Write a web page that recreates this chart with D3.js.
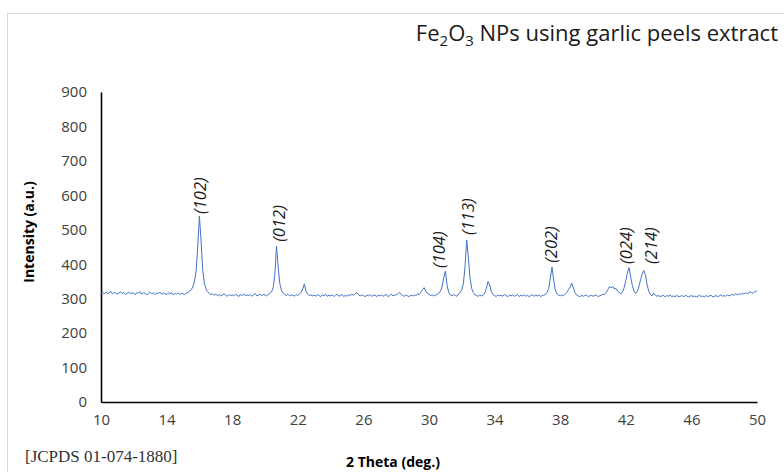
<!DOCTYPE html>
<html>
<head>
<meta charset="utf-8">
<script src="https://cdn.jsdelivr.net/npm/d3@7"></script>
<style>
  body { margin: 0; background: #fff; }
  text { font-family: "Open Sans", "Noto Sans", sans-serif; }
</style>
</head>
<body>
<script>
// XRD pattern, 2 theta from 10 to 50 in 0.1 steps
var thetaStart = 10;
var thetaStep = 0.1;
var intensity = [
  316, 318, 314, 319, 315, 317, 321, 314, 318, 316,   // 10
  313, 317, 320, 315, 318, 312, 316, 319, 314, 317,   // 11
  315, 312, 318, 316, 320, 313, 317, 315, 311, 316,   // 12
  318, 314, 316, 312, 317, 315, 319, 313, 316, 314,   // 13
  312, 316, 314, 318, 311, 315, 313, 317, 312, 315,   // 14
  314, 312, 316, 318, 321, 326, 334, 350, 380, 450,   // 15
  540, 470, 385, 345, 328, 320, 316, 312, 314, 310,   // 16
  313, 309, 312, 308, 311, 314, 310, 307, 312, 309,   // 17
  311, 308, 313, 310, 306, 312, 309, 314, 308, 311,   // 18
  309, 312, 307, 311, 315, 308, 310, 313, 309, 312,   // 19
  311, 308, 312, 315, 320, 332, 370, 452, 395, 345,   // 20
  325, 316, 312, 309, 313, 308, 311, 310, 307, 312,   // 21
  309, 313, 318, 328, 343, 322, 313, 309, 311, 308,   // 22
  310, 307, 312, 309, 306, 311, 308, 313, 307, 310,   // 23
  308, 311, 306, 310, 313, 307, 309, 312, 306, 310,   // 24
  307, 311, 309, 313, 310, 315, 317, 312, 308, 311,   // 25
  309, 306, 310, 308, 312, 307, 309, 311, 306, 310,   // 26
  308, 311, 307, 310, 312, 306, 309, 313, 308, 310,   // 27
  311, 314, 318, 313, 309, 307, 311, 308, 306, 310,   // 28
  308, 311, 309, 313, 312, 318, 326, 332, 322, 315,   // 29
  313, 309, 311, 308, 310, 312, 316, 322, 335, 362,   // 30
  380, 340, 318, 311, 308, 312, 309, 307, 313, 318,   // 31
  326, 345, 395, 470, 420, 360, 330, 318, 311, 309,   // 32
  307, 311, 308, 310, 316, 330, 350, 340, 320, 312,   // 33
  309, 306, 311, 308, 310, 307, 312, 309, 306, 310,   // 34
  308, 311, 307, 309, 312, 306, 310, 308, 311, 307,   // 35
  310, 306, 309, 312, 307, 310, 308, 311, 306, 309,   // 36
  310, 312, 318, 330, 360, 392, 355, 325, 314, 310,   // 37
  308, 311, 309, 313, 318, 326, 333, 345, 332, 318,   // 38
  311, 308, 306, 310, 307, 309, 311, 306, 308, 310,   // 39
  307, 309, 311, 306, 308, 310, 313, 312, 318, 326,   // 40
  335, 331, 336, 328, 330, 322, 318, 314, 320, 332,   // 41
  352, 375, 390, 362, 338, 322, 315, 320, 335, 355,   // 42
  372, 382, 368, 340, 322, 312, 308, 316, 310, 307,   // 43
  309, 306, 308, 310, 305, 309, 307, 310, 306, 308,   // 44
  306, 309, 307, 305, 310, 306, 308, 309, 305, 307,   // 45
  309, 306, 308, 305, 307, 310, 306, 308, 305, 309,   // 46
  306, 308, 310, 305, 307, 309, 306, 308, 311, 307,   // 47
  309, 307, 311, 308, 310, 313, 309, 315, 311, 314,   // 48
  312, 316, 313, 318, 314, 317, 320, 315, 318, 321,   // 49
  322                                                 // 50
];

var xTicks = [10, 14, 18, 22, 26, 30, 34, 38, 42, 46, 50];
var yTicks = [0, 100, 200, 300, 400, 500, 600, 700, 800, 900];

// peak indices (hkl) and where their labels sit, in data units
var peakLabels = ["(102)", "(012)", "(104)", "(113)", "(202)", "(024)", "(214)"];
var peakTheta = [16.4, 21.2, 31.0, 32.75, 37.8, 42.4, 43.9];
var peakLabelBase = [546, 465, 389, 485, 404, 401, 401];

var svgWidth = 784;
var svgHeight = 472;

var margin = { top: 92, right: 27, bottom: 70, left: 101 };
var width = svgWidth - margin.left - margin.right;
var height = svgHeight - margin.top - margin.bottom;

var svg = d3.select("body")
            .append("svg")
            .attr("width", svgWidth)
            .attr("height", svgHeight);

// chart area border (runs off the right and bottom edges)
svg.append("rect")
   .attr("x", 7.5)
   .attr("y", 13.5)
   .attr("width", svgWidth)
   .attr("height", svgHeight)
   .attr("fill", "none")
   .attr("stroke", "#d9d9d9")
   .attr("stroke-width", 1);

var chartGroup = svg.append("g")
                    .attr("transform", `translate(${margin.left}, ${margin.top})`);

var xScale = d3.scaleLinear()
               .domain([10, 50])
               .range([0, width]);

var yScale = d3.scaleLinear()
               .domain([0, 900])
               .range([height, 0]);

var bottomAxis = d3.axisBottom(xScale).tickValues(xTicks).tickSize(0).tickPadding(12);
var leftAxis = d3.axisLeft(yScale).tickValues(yTicks).tickSize(0).tickPadding(14);

var xAxisG = chartGroup.append("g")
    .attr("transform", `translate(0, ${height})`)
    .call(bottomAxis);

var yAxisG = chartGroup.append("g")
    .call(leftAxis);

[xAxisG, yAxisG].forEach(function(g) {
  g.select(".domain").attr("stroke", "#000").attr("stroke-width", 1.6);
  g.selectAll("text")
   .attr("fill", "#404040")
   .style("font-family", "'Open Sans', sans-serif")
   .style("font-size", "15px");
});

var line = d3.line()
             .x((d, i) => xScale(thetaStart + i * thetaStep))
             .y(d => yScale(d));

chartGroup.append("path")
    .datum(intensity)
    .attr("d", line)
    .attr("fill", "none")
    .attr("stroke", "#4472c4")
    .attr("stroke-width", 1)
    .attr("stroke-linejoin", "round");

// hkl labels
chartGroup.selectAll(".hkl")
    .data(peakLabels)
    .enter()
    .append("text")
    .attr("class", "hkl")
    .attr("transform", (d, i) => `translate(${xScale(peakTheta[i])}, ${yScale(peakLabelBase[i])}) rotate(-90)`)
    .style("font-style", "italic")
    .style("font-size", "16.5px")
    .attr("fill", "#1a1a1a")
    .text(d => d);

// title
var title = svg.append("text")
    .attr("x", 778)
    .attr("y", 41)
    .attr("text-anchor", "end")
    .style("font-size", "22px")
    .attr("fill", "#1a1a1a");
title.append("tspan").text("Fe");
title.append("tspan").attr("dy", 5).style("font-size", "15px").text("2");
title.append("tspan").attr("dy", -5).text("O");
title.append("tspan").attr("dy", 5).style("font-size", "15px").text("3");
title.append("tspan").attr("dy", -5).text(" NPs using garlic peels extract");

// axis titles
svg.append("text")
    .attr("transform", "translate(34, 232) rotate(-90)")
    .attr("text-anchor", "middle")
    .style("font-weight", "bold")
    .style("font-size", "14px")
    .attr("fill", "#000")
    .text("Intensity (a.u.)");

svg.append("text")
    .attr("x", 393)
    .attr("y", 467)
    .attr("text-anchor", "middle")
    .style("font-weight", "bold")
    .style("font-size", "14px")
    .attr("fill", "#000")
    .text("2 Theta (deg.)");

svg.append("text")
    .attr("x", 25)
    .attr("y", 462)
    .style("font-family", "'Liberation Serif', 'DejaVu Serif', serif")
    .style("font-size", "17px")
    .attr("fill", "#333")
    .text("[JCPDS 01-074-1880]");
</script>
</body>
</html>
